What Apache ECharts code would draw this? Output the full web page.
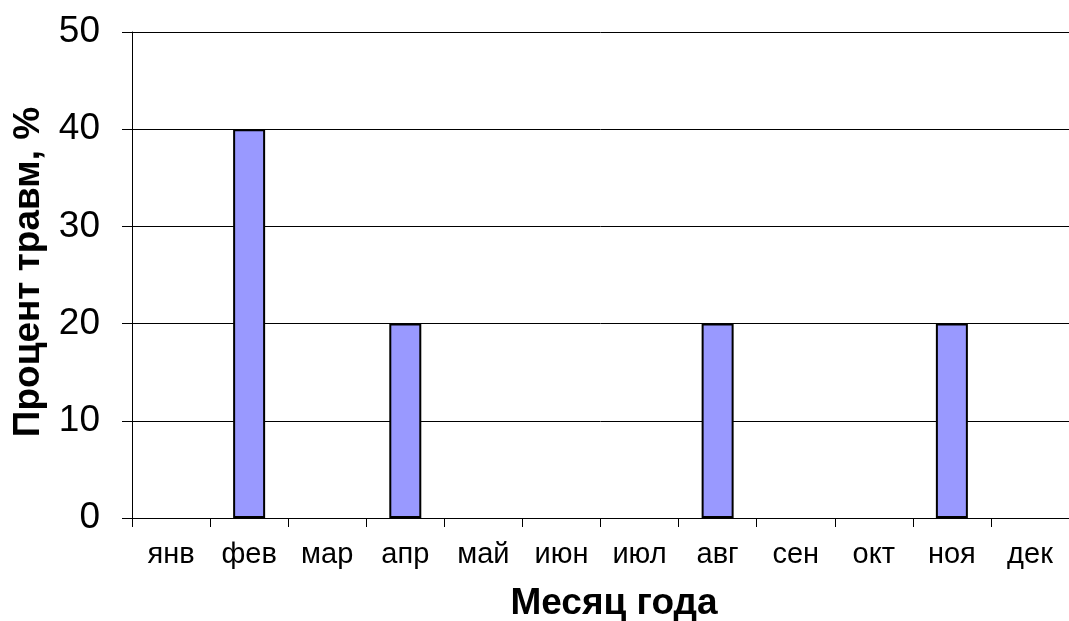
<!DOCTYPE html>
<html>
<head>
<meta charset="utf-8">
<script src="https://cdn.jsdelivr.net/npm/echarts@6/dist/echarts.min.js"></script>
<style>
  html, body { margin: 0; padding: 0; background: #fff; }
  #chart { width: 1069px; height: 621px; }
</style>
</head>
<body>
<div id="chart"></div>
<script>
// Months of the year
const months = ['янв', 'фев', 'мар', 'апр', 'май', 'июн', 'июл', 'авг', 'сен', 'окт', 'ноя', 'дек'];
// Share of injuries per month, %
const injuryPercent = [0, 40, 0, 20, 0, 0, 0, 20, 0, 0, 20, 0];
// Value axis range
const yMin = 0;
const yMax = 50;
const yStep = 10;

const yTitle = 'Процент травм, %';
const xTitle = 'Месяц года';

const FONT = '"Liberation Sans", Arial, sans-serif';

const chart = echarts.init(document.getElementById('chart'), null, { renderer: 'canvas' });

chart.setOption({
  animation: false,
  backgroundColor: '#ffffff',
  grid: { left: 132, top: 32, width: 943, bottom: 103, containLabel: false },
  xAxis: {
    type: 'category',
    data: months,
    boundaryGap: true,
    axisLine: { show: true, lineStyle: { color: '#000', width: 1 } },
    axisTick: { show: true, length: 9, inside: false, alignWithLabel: false, lineStyle: { color: '#000', width: 1 } },
    axisLabel: { color: '#000', fontFamily: FONT, fontSize: 29, margin: 22, interval: 0 },
    splitLine: { show: false }
  },
  yAxis: {
    type: 'value',
    min: yMin,
    max: yMax,
    interval: yStep,
    axisLine: { show: true, lineStyle: { color: '#000', width: 1 } },
    axisTick: { show: true, length: 10, inside: false, lineStyle: { color: '#000', width: 1 } },
    axisLabel: { color: '#000', fontFamily: FONT, fontSize: 37, margin: 32 },
    splitLine: { show: true, lineStyle: { color: '#000', width: 1 } }
  },
  graphic: [
    {
      type: 'text',
      x: 29,
      y: 272,
      rotation: Math.PI / 2,
      style: {
        text: yTitle,
        fill: '#000',
        font: 'bold 37px ' + FONT,
        textAlign: 'center',
        textVerticalAlign: 'middle'
      }
    },
    {
      type: 'text',
      x: 614,
      y: 604,
      style: {
        text: xTitle,
        fill: '#000',
        font: 'bold 37px ' + FONT,
        textAlign: 'center',
        textVerticalAlign: 'middle'
      }
    }
  ],
  series: [{
    type: 'bar',
    barWidth: 32,
    data: injuryPercent.map(v => ({
      value: v,
      itemStyle: v === 0 ? { borderWidth: 0 } : undefined
    })),
    itemStyle: { color: '#9999FF', borderColor: '#000', borderWidth: 2 }
  }]
});
</script>
</body>
</html>
